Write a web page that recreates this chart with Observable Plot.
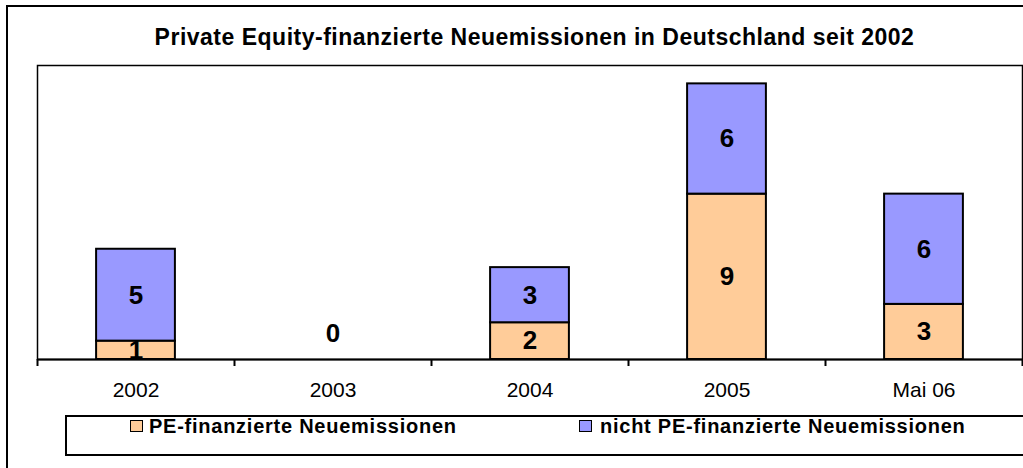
<!DOCTYPE html>
<html>
<head>
<meta charset="utf-8">
<script src="https://cdn.jsdelivr.net/npm/d3@7"></script>
<script src="https://cdn.jsdelivr.net/npm/@observablehq/plot@0.6"></script>
<style>
html, body { margin: 0; padding: 0; background: #fff; overflow: hidden; width: 1023px; height: 468px; }
body { position: relative; font-family: "Liberation Sans", Arial, sans-serif; color: #000; }
#outer { position: absolute; left: 6px; top: 5px; width: 1100px; height: 520px; border: 2px solid #000; box-sizing: border-box; }
#title { position: absolute; left: 0; top: 26px; width: 1069px; text-align: center; font-weight: bold; font-size: 23px; line-height: 23px; letter-spacing: 0.5px; white-space: nowrap; }
#chart { position: absolute; left: 0; top: 55px; }
#legend { position: absolute; left: 65px; top: 415px; width: 1100px; height: 41px; border: 2px solid #000; box-sizing: border-box; }
.sw { position: absolute; width: 13px; height: 12px; border: 1.5px solid #000; box-sizing: border-box; }
.lt { position: absolute; font-weight: bold; font-size: 20px; line-height: 20px; letter-spacing: 0.75px; white-space: nowrap; }
</style>
</head>
<body>
<div id="outer"></div>
<div id="title"></div>
<div id="chart"></div>
<div id="legend"></div>
<script>
const titleText = "Private Equity-finanzierte Neuemissionen in Deutschland seit 2002";
const categories = ["2002", "2003", "2004", "2005", "Mai 06"];
const seriesNames = ["PE-finanzierte Neuemissionen", "nicht PE-finanzierte Neuemissionen"];
const peValues = [1, 0, 2, 9, 3];
const nonPeValues = [5, 0, 3, 6, 6];
const seriesColors = ["#FFCC99", "#9999FF"];
const yDomain = [0, 16];

document.getElementById("title").textContent = titleText;

const data = [];
categories.forEach((c, i) => {
  data.push({cat: c, i, series: seriesNames[0], value: peValues[i]});
  data.push({cat: c, i, series: seriesNames[1], value: nonPeValues[i]});
});

const chart = Plot.plot({
  width: 1023,
  height: 355,
  marginLeft: 37,
  marginRight: 1,
  marginTop: 10,
  marginBottom: 51,
  style: {fontFamily: "'Liberation Sans', Arial, sans-serif", background: "transparent", color: "#000", overflow: "visible"},
  x: {type: "linear", domain: [0, categories.length]},
  y: {domain: yDomain, axis: null},
  color: {domain: seriesNames, range: seriesColors},
  marks: [
    Plot.frame({stroke: "#000", strokeWidth: 1.5}),
    Plot.rectY(data, Plot.stackY({
      x1: d => d.i + 0.3, x2: d => d.i + 0.7, y: "value", z: "series",
      fill: "series", stroke: "#000", strokeWidth: 2
    })),
    Plot.ruleY([0], {stroke: "#000", strokeWidth: 2}),
    Plot.text(data, Plot.stackY({
      filter: d => d.value > 0,
      x: d => d.i + 0.5, y: "value", z: "series",
      text: d => String(d.value), fontSize: 26, fontWeight: "bold", fill: "#000"
    })),
    Plot.text(data, {
      filter: d => d.value === 0 && d.series === seriesNames[0] && nonPeValues[d.i] === 0,
      x: d => d.i + 0.5, y: 0, dy: -26,
      text: d => String(d.value), fontSize: 26, fontWeight: "bold", fill: "#000"
    }),
    Plot.axisX({ticks: d3.range(categories.length + 1), tickSize: 7, tickFormat: () => "", stroke: "#000", strokeWidth: 2}),
    Plot.axisX({
      ticks: categories.map((c, i) => i + 0.5),
      tickFormat: v => categories[Math.floor(v)],
      tickSize: 0, tickPadding: 23, fontSize: 21, fill: "#000"
    })
  ]
});
document.getElementById("chart").appendChild(chart);

// legend
const legendPos = [{sw: 130, tx: 149}, {sw: 579, tx: 600}];
seriesNames.forEach((name, k) => {
  const sw = document.createElement("div");
  sw.className = "sw";
  sw.style.left = legendPos[k].sw + "px";
  sw.style.top = "420px";
  sw.style.background = seriesColors[k];
  document.body.appendChild(sw);
  const t = document.createElement("div");
  t.className = "lt";
  t.style.left = legendPos[k].tx + "px";
  t.style.top = "416px";
  t.textContent = name;
  document.body.appendChild(t);
});
</script>
</body>
</html>
